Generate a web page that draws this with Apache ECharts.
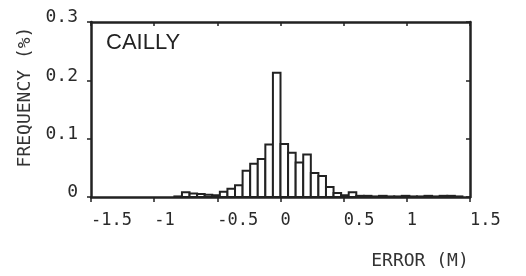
<!DOCTYPE html>
<html>
<head>
<meta charset="utf-8">
<script src="https://cdn.jsdelivr.net/npm/echarts@6/dist/echarts.min.js"></script>
<style>
  html, body { margin: 0; padding: 0; background: #fff; }
  #chart { width: 526px; height: 276px; }
</style>
</head>
<body>
<div id="chart"></div>
<script>
// left edge of each histogram bin (m) and its frequency
const binLeft = [-0.84, -0.78, -0.72, -0.66, -0.60, -0.54, -0.48, -0.42, -0.36, -0.30,
  -0.24, -0.18, -0.12, -0.06, 0.00, 0.06, 0.12, 0.18, 0.24, 0.30,
  0.36, 0.42, 0.48, 0.54, 0.60, 0.66, 0.72, 0.78, 0.84, 0.90,
  0.96, 1.02, 1.08, 1.14, 1.20, 1.26, 1.32, 1.38];
const freq = [0.001, 0.008, 0.006, 0.005, 0.004, 0.003, 0.009, 0.014, 0.020, 0.045,
  0.057, 0.065, 0.090, 0.213, 0.091, 0.076, 0.059, 0.073, 0.041, 0.036,
  0.017, 0.007, 0.003, 0.008, 0.002, 0.002, 0.001, 0.002, 0.001, 0.001,
  0.002, 0.001, 0.001, 0.002, 0.001, 0.002, 0.002, 0.001];
const binWidth = 0.06;

const xRange = [-1.5, 1.5];
const yRange = [0, 0.3];

const ink = '#222';
const mono = '"DejaVu Sans Mono", monospace';

let chart = echarts.init(document.getElementById('chart'));

const frameAxis = {
  axisLine: { show: true, onZero: false, lineStyle: { color: ink, width: 2.5 } },
  splitLine: { show: false }
};

chart.setOption({
  animation: false,
  backgroundColor: '#fff',
  grid: { left: 91, right: 56, top: 22, bottom: 79 },
  xAxis: [
    Object.assign({
      type: 'value', min: xRange[0], max: xRange[1], interval: 0.5, position: 'bottom',
      axisTick: { length: 5, lineStyle: { color: ink, width: 1.5 } },
      axisLabel: { align: 'left', margin: 15, fontFamily: mono, fontSize: 17, color: '#2a2a2a',
        formatter: v => String(v) }
    }, frameAxis),
    Object.assign({
      type: 'value', min: xRange[0], max: xRange[1], interval: 0.5, position: 'top',
      axisTick: { inside: true, length: 4, lineStyle: { color: ink, width: 1.5 } },
      axisLabel: { show: false }
    }, frameAxis)
  ],
  yAxis: [
    Object.assign({
      type: 'value', min: yRange[0], max: yRange[1], interval: 0.1, position: 'left',
      axisTick: { length: 4, lineStyle: { color: ink, width: 1.5 } },
      axisLabel: { margin: 13, fontFamily: mono, fontSize: 18, color: '#2a2a2a', verticalAlign: 'bottom',
        lineHeight: 9, formatter: v => v === 0 ? '0' : v.toFixed(1) }
    }, frameAxis),
    Object.assign({
      type: 'value', min: yRange[0], max: yRange[1], interval: 0.1, position: 'right',
      axisTick: { inside: true, length: 4, lineStyle: { color: ink, width: 1.5 } },
      axisLabel: { show: false }
    }, frameAxis)
  ],
  graphic: [
    { type: 'text', left: 106, top: 32, style: { text: 'CAILLY', fontFamily: '"Liberation Sans", Arial, sans-serif', fontSize: 22, fill: ink } },
    { type: 'text', x: 25, y: 97, rotation: Math.PI / 2,
      style: { text: 'FREQUENCY (%)', fontFamily: mono, fontSize: 18, fill: '#333', align: 'center', verticalAlign: 'middle' } },
    { type: 'text', x: 420, y: 261,
      style: { text: 'ERROR (M)', fontFamily: mono, fontSize: 18, fill: '#333', align: 'center', verticalAlign: 'middle' } }
  ],
  series: [{
    type: 'custom',
    xAxisIndex: 0, yAxisIndex: 0,
    data: binLeft.map((x, i) => [x, x + binWidth, freq[i]]),
    renderItem: function (params, api) {
      let p0 = api.coord([api.value(0), 0]);
      let p1 = api.coord([api.value(1), api.value(2)]);
      return {
        type: 'rect',
        shape: { x: p0[0], y: p1[1], width: p1[0] - p0[0], height: p0[1] - p1[1] },
        style: { fill: '#fff', stroke: ink, lineWidth: 2 }
      };
    }
  }]
});
</script>
</body>
</html>
